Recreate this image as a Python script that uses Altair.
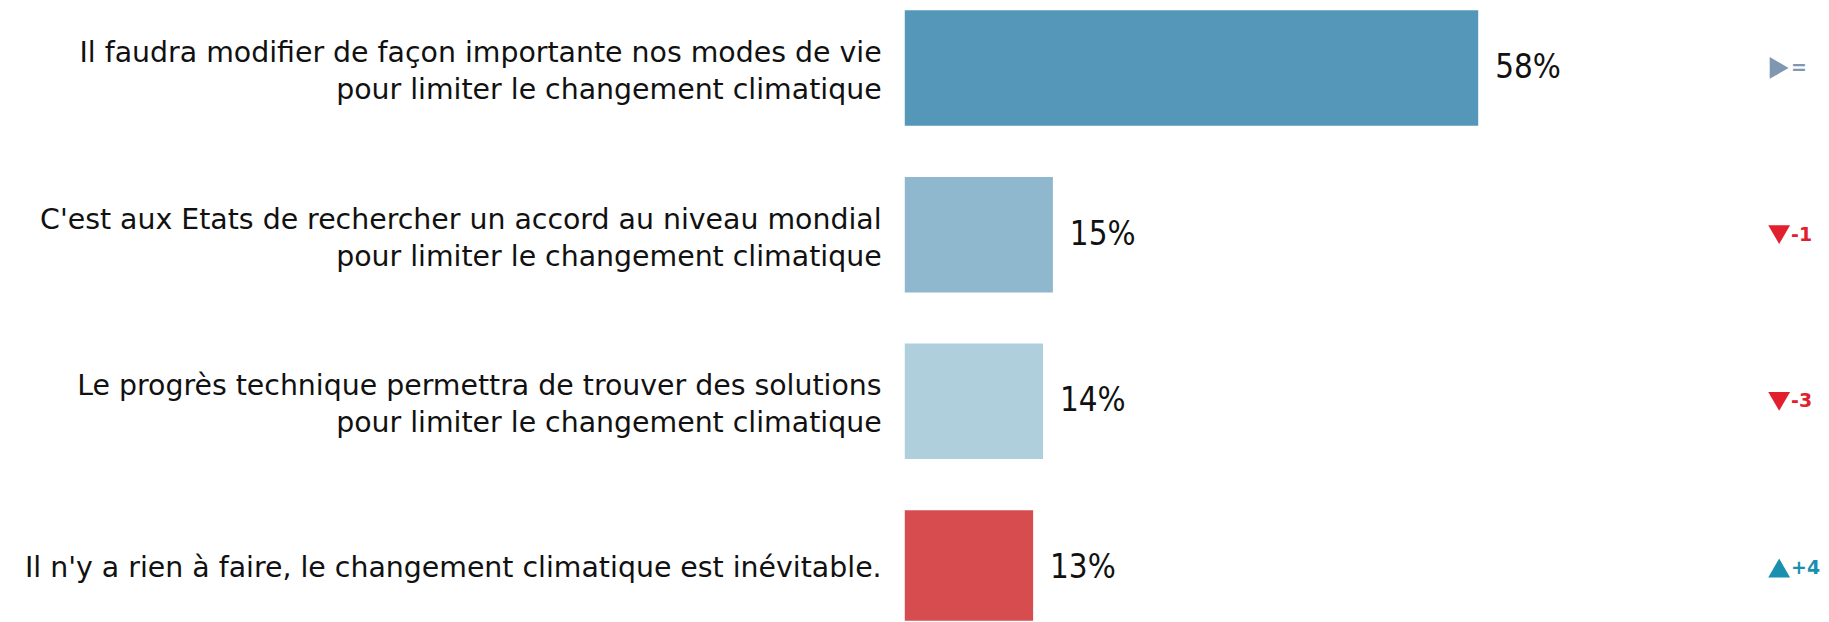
import altair as alt
import pandas as pd

categories = [
    ["Il faudra modifier de façon importante nos modes de vie", "pour limiter le changement climatique"],
    ["C'est aux Etats de rechercher un accord au niveau mondial", "pour limiter le changement climatique"],
    ["Le progrès technique permettra de trouver des solutions", "pour limiter le changement climatique"],
    ["Il n'y a rien à faire, le changement climatique est inévitable."],
]
values = [58, 15, 14, 13]
value_labels = ["58%", "15%", "14%", "13%"]
changes = ["=", "-1", "-3", "+4"]
trend_shapes = ["triangle-right", "triangle-down", "triangle-down", "triangle-up"]
bar_colors = ["#5597b9", "#8fb7ce", "#b0cfdd", "#d64c4f"]
trend_colors = ["#8097b1", "#e2202d", "#e2202d", "#1990ae"]

rows = list(range(len(values)))
df = pd.DataFrame({
    "row": rows,
    "label": categories,
    "nlines": [len(c) for c in categories],
    "value": values,
    "value_label": value_labels,
    "change": changes,
    "shape": trend_shapes,
    "bar_color": bar_colors,
    "trend_color": trend_colors,
})

H = 614
yenc = alt.Y("row:O", axis=None,
             scale=alt.Scale(type="band", paddingInner=0.307, paddingOuter=0,
                             range=[1, 619]))

base = alt.Chart(df)

label_style = dict(align="right", baseline="middle", font="DejaVu Sans",
                   fontSize=28.5, lineHeight=37, color="#111111")
lab2 = base.transform_filter(alt.datum.nlines > 1).mark_text(dy=-15, **label_style).encode(
    y=yenc, x=alt.value(877), text="label:N"
)
lab1 = base.transform_filter(alt.datum.nlines == 1).mark_text(**label_style).encode(
    y=yenc, x=alt.value(877), text="label:N"
)
left = alt.layer(lab2, lab1).properties(width=900, height=H)

xenc = alt.X("value:Q", axis=None, scale=alt.Scale(domain=[0, 84.2], nice=False, zero=True))
bars = base.mark_bar(clip=True).encode(
    y=yenc, x=xenc, color=alt.Color("bar_color:N", scale=None)
)
vals = base.mark_text(
    align="left", baseline="middle", dx=17,
    font="'DejaVu Sans Condensed', 'Liberation Sans', sans-serif",
    fontSize=33, color="#111111"
).encode(y=yenc, x=xenc, text="value_label:N")
middle = alt.layer(bars, vals).properties(width=836, height=H)

tri = base.mark_point(filled=True, size=480, opacity=1).encode(
    y=yenc, x=alt.value(42),
    shape=alt.Shape("shape:N", scale=None),
    color=alt.Color("trend_color:N", scale=None),
)
chg = base.mark_text(
    align="left", baseline="middle", font="DejaVu Sans", fontWeight="bold",
    fontSize=19
).encode(
    y=yenc, x=alt.value(54), text="change:N",
    color=alt.Color("trend_color:N", scale=None),
)
right = alt.layer(tri, chg).properties(width=77, height=H)

chart = alt.hconcat(left, middle, right, spacing=0).properties(
    padding=0, background="white"
).configure_view(stroke=None)

chart.save("out.html", embed_options={"renderer": "svg", "actions": False})
